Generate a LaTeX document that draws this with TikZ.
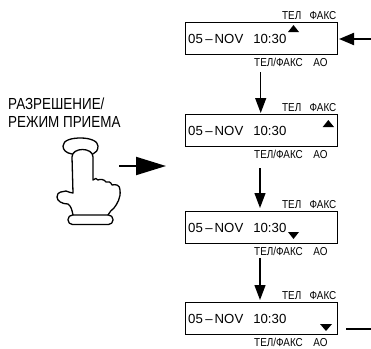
\documentclass[tikz,border=0pt]{standalone}
\usepackage{fontspec}
\setmainfont{Liberation Sans}
\newfontfamily\narrowf[FakeStretch=0.86]{Liberation Sans}
\newfontfamily\titlef[FakeStretch=0.84]{Liberation Sans}
\usetikzlibrary{arrows.meta}
\tikzset{
 x=1pt,y=-1pt,
 lcd/.style={draw,line width=0.9pt,minimum width=152pt,minimum height=32pt,inner sep=0,anchor=north west},
 lab/.style={inner sep=0,font=\narrowf\fontsize{11.5}{11.5}\selectfont,anchor=base},
 clock/.style={inner sep=0,font=\fontsize{13.2}{13}\selectfont,anchor=base west},
 flow/.style={line width=1.3pt,-{Triangle[length=15pt,width=11pt]}},
 tri/.style={fill=black},
 hand/.style={line width=1.3pt,line join=round,line cap=round}
}
\begin{document}
\begin{tikzpicture}
\useasboundingbox (0,0) rectangle (371,348);
\foreach \n/\y in {a/22,b/114,c/211,d/302}{
 \node[lcd] (\n) at (184.8,\y) {};
 \node[clock] (\n t) at (188,\y+21.7) {05\hspace{2.5pt}–\hspace{2pt}NOV\hspace{10pt}10:30};
 \node[lab] (\n 1) at (291.7,\y-2.5) {ТЕЛ};
 \node[lab,anchor=base east] (\n 2) at (336.5,\y-2.5) {ФАКС};
 \node[lab] (\n 3) at (278.5,\y+44) {ТЕЛ/ФАКС};
 \node[lab] (\n 4) at (320.5,\y+44) {АО};
}
\coordinate (x1) at (260.7,72); \coordinate (x2) at (260.7,113);
\draw[flow] (x1) -- (x2);
\coordinate (x3) at (260,168); \coordinate (x4) at (260,208);
\draw[flow] (x3) -- (x4);
\coordinate (x5) at (260,258); \coordinate (x6) at (260,300);
\draw[flow] (x5) -- (x6);
\coordinate (y1) at (371,39); \coordinate (y2) at (339,39);
\draw[line width=2pt,-{Triangle[length=15pt,width=12pt]}] (y1) -- (y2);
\coordinate (z1) at (346,329); \coordinate (z2) at (371,329);
\draw[line width=2pt] (z1) -- (z2);
\fill[tri] (288,32) -- (293.5,25) -- (299,32) -- cycle;
\fill[tri] (322.7,127) -- (328.3,120) -- (334,127) -- cycle;
\fill[tri] (288,232) -- (293.5,239) -- (299,232) -- cycle;
\fill[tri] (320,324) -- (326,331) -- (332,324) -- cycle;
\node[inner sep=0,font=\titlef\fontsize{16}{17.3}\selectfont,align=left,anchor=north west] (title) at (8,98) {РАЗРЕШЕНИЕ/\\РЕЖИМ ПРИЕМА};
\coordinate (p1) at (119,166); \coordinate (p2) at (166,166);
\draw[line width=2pt,-{Triangle[length=30pt,width=18pt]}] (p1) -- (p2);
% button
\draw[hand] (72,154) .. controls (66,153) and (63,150) .. (63,146) .. controls (63,140) and (72,138) .. (80.5,138) .. controls (90,138) and (98,141) .. (98,146) .. controls (98,150) and (96,153) .. (93,154);
% hand
\draw[hand] (73,215) .. controls (72,210) and (71,206) .. (68,204) .. controls (62,204) and (57,201) .. (57,197) .. controls (57,191) and (63,192) .. (66,191) .. controls (69,192) and (71,193) .. (73,193) -- (72,157) .. controls (72,147) and (93,147) .. (93,157) -- (93,180) .. controls (95,178) and (97,178) .. (98,180) .. controls (100,179) and (104,179) .. (106,182) .. controls (108,181) and (111,182) .. (112,185) .. controls (116,184) and (120,185) .. (120,190) .. controls (121,198) and (117,204) .. (114,208) .. controls (112,210) and (109,212) .. (108,215);
% cuff
\draw[hand,rounded corners=4.5pt] (68,215) rectangle (113,224.5);
\end{tikzpicture}
\end{document}
